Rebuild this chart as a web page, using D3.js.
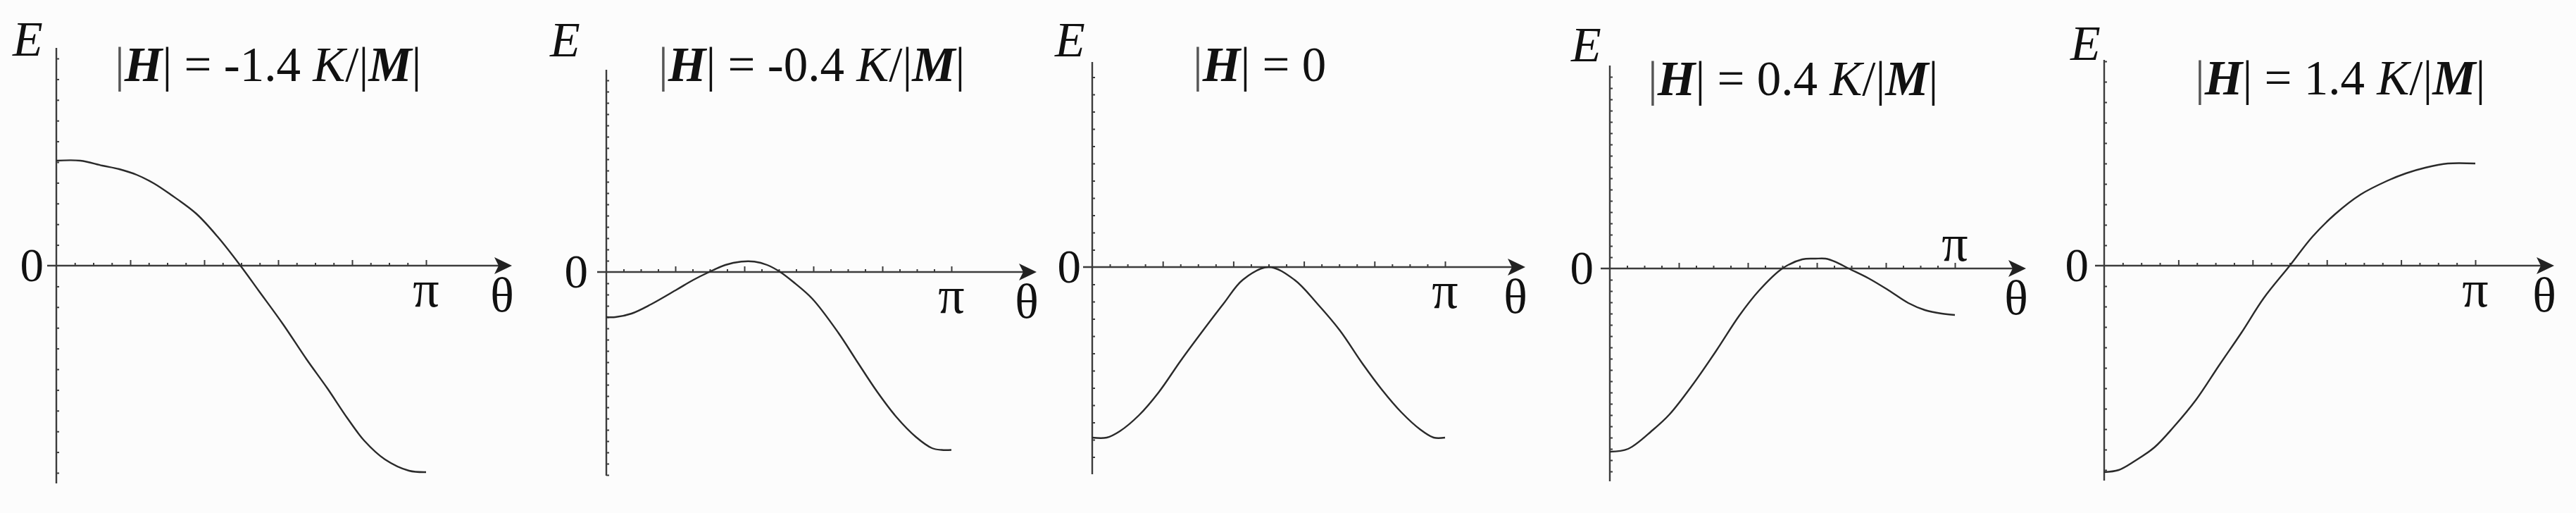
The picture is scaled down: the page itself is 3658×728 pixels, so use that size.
<!DOCTYPE html>
<html lang="en">
<head>
	<meta charset="utf-8">
	<title>E(theta) for several fields</title>
	<style>
		body {
			margin: 0;
			background-color: #fcfcfc;
		}
		svg text {
			font-family: "Liberation Serif", "DejaVu Serif", serif;
			fill: #111;
			white-space: pre;
		}
		.axis-line {
			stroke: #3c3c3c;
			stroke-width: 2.4;
			fill: none;
		}
		.ticks path.domain {
			display: none;
		}
		.ticks line {
			stroke: #3c3c3c;
			stroke-width: 2;
		}
		.curve {
			stroke: #2a2a2a;
			stroke-width: 2.4;
			fill: none;
		}
	</style>
</head>
<body>
	<svg id="chart"></svg>

	<script src="https://d3js.org/d3.v7.min.js"></script>
	<script>
		// field values in the panel titles (units of K/|M|)
		var fieldLabels = ["-1.4", "-0.4", "0", "0.4", "1.4"];

		// theta is given as a fraction of pi, energy in arbitrary units (0 = axis)
		var thetaA  = [0, 0.065, 0.124, 0.17, 0.217, 0.263, 0.309, 0.378, 0.438, 0.498, 0.548, 0.613, 0.677, 0.733, 0.788, 0.834, 0.889, 0.954, 1.0];
		var energyA = [149, 149, 142, 137, 129, 117, 101, 74, 40, 0, -36, -83, -133, -174, -217, -249, -275, -291, -293];

		var thetaB  = [0, 0.026, 0.073, 0.129, 0.204, 0.251, 0.298, 0.345, 0.391, 0.429, 0.466, 0.504, 0.541, 0.597, 0.672, 0.728, 0.785, 0.841, 0.897, 0.944, 0.972, 1.0];
		var energyB = [-64, -64, -59, -46, -25, -11.5, 0, 10, 14.7, 14.7, 10, 0, -13.8, -38, -86, -128, -170, -206, -234, -250, -252.5, -252.5];

		var thetaC  = [0, 0.041, 0.078, 0.133, 0.188, 0.252, 0.317, 0.372, 0.427, 0.5, 0.573, 0.638, 0.702, 0.766, 0.821, 0.876, 0.931, 0.968, 1.0];
		var energyC = [-242, -242, -233, -210, -178, -132, -88, -52, -18, 0, -18, -52, -90, -137, -174, -206, -231, -242, -242];

		var thetaD  = [0, 0.053, 0.125, 0.173, 0.24, 0.308, 0.375, 0.433, 0.5, 0.558, 0.596, 0.625, 0.654, 0.692, 0.75, 0.808, 0.865, 0.913, 0.962, 1.0];
		var energyD = [-260, -256, -229, -207, -165, -117, -67, -31, 0, 13, 14, 14, 9.4, 0, -14, -31, -49, -59, -64, -66];

		var thetaE  = [0, 0.039, 0.083, 0.135, 0.187, 0.248, 0.309, 0.37, 0.43, 0.5, 0.561, 0.622, 0.691, 0.761, 0.813, 0.865, 0.926, 1.0];
		var energyE = [-293, -290, -277, -258, -229, -190, -142, -95, -46, 0, 41, 73, 101, 120, 131, 139, 145, 145];

		var thetas   = [thetaA, thetaB, thetaC, thetaD, thetaE];
		var energies = [energyA, energyB, energyC, energyD, energyE];

		// panel frames on the page
		var layout = [
			{axisX: 80,   piX: 605,  arrowX: 727,  zeroY: 377, topY: 68, bottomY: 686, yStep: 29.4, titleX: 163,  titleY: 115, eX: 18,   eY: 79, zeroGap: 18, piAbove: false},
			{axisX: 861,  piX: 1351, arrowX: 1472, zeroY: 386, topY: 99, bottomY: 675, yStep: 16,   titleX: 935,  titleY: 115, eX: 781,  eY: 80, zeroGap: 26, piAbove: false},
			{axisX: 1551, piX: 2052, arrowX: 2166, zeroY: 379, topY: 88, bottomY: 673, yStep: 24.5, titleX: 1694, titleY: 115, eX: 1498, eY: 80, zeroGap: 16, piAbove: false},
			{axisX: 2286, piX: 2776, arrowX: 2877, zeroY: 381, topY: 93, bottomY: 683, yStep: 16,   titleX: 2340, titleY: 135, eX: 2231, eY: 87, zeroGap: 23, piAbove: true},
			{axisX: 2988, piX: 3515, arrowX: 3627, zeroY: 377, topY: 85, bottomY: 682, yStep: 29,   titleX: 3117, titleY: 134, eX: 2940, eY: 85, zeroGap: 22, piAbove: false}
		];

		var width = 3658,
		    height = 728;

		var svg = d3.select("#chart")
			.attr("width", width)
			.attr("height", height)
			.attr("viewBox", "0 0 " + width + " " + height);

		layout.forEach(function(p, i) {
			var g = svg.append("g").attr("class", "panel");

			var x = d3.scaleLinear().domain([0, 1]).range([p.axisX, p.piX]);
			var y = d3.scaleLinear()
				.domain([-(p.bottomY - p.zeroY), p.zeroY - p.topY])
				.range([p.bottomY, p.topY]);

			// x ticks every pi/20, longer ones every pi/5
			var xMinor = d3.range(0, 21).filter(function(k) { return k % 4 != 0; }).map(function(k) { return k / 20; });
			var xMajor = d3.range(4, 21, 4).map(function(k) { return k / 20; });

			g.append("g").attr("class", "ticks")
				.attr("transform", "translate(0," + y(0) + ")")
				.call(d3.axisTop(x).tickValues(xMinor).tickSize(4).tickFormat(""));
			g.append("g").attr("class", "ticks")
				.attr("transform", "translate(0," + y(0) + ")")
				.call(d3.axisTop(x).tickValues(xMajor).tickSize(8).tickFormat(""));

			// y ticks on the right side of the axis
			var yDom = y.domain();
			var yVals = d3.range(p.yStep, yDom[1], p.yStep)
				.concat(d3.range(-p.yStep, yDom[0], -p.yStep));
			g.append("g").attr("class", "ticks")
				.attr("transform", "translate(" + x(0) + ",0)")
				.call(d3.axisRight(y).tickValues(yVals).tickSize(4).tickFormat(""));

			// axis lines
			g.append("line").attr("class", "axis-line")
				.attr("x1", x(0)).attr("x2", x(0))
				.attr("y1", y(yDom[1])).attr("y2", y(yDom[0]));
			g.append("line").attr("class", "axis-line")
				.attr("x1", x(0) - 13).attr("x2", p.arrowX - 10)
				.attr("y1", y(0)).attr("y2", y(0));
			g.append("path")
				.attr("d", "M" + p.arrowX + "," + y(0) +
					"L" + (p.arrowX - 25) + "," + (y(0) - 12) +
					"L" + (p.arrowX - 19) + "," + y(0) +
					"L" + (p.arrowX - 25) + "," + (y(0) + 12) + "Z")
				.attr("fill", "#222");

			// the curve
			var pts = thetas[i].map(function(t, j) { return [t, energies[i][j]]; });
			var line = d3.line()
				.x(function(d) { return x(d[0]); })
				.y(function(d) { return y(d[1]); })
				.curve(d3.curveCatmullRom.alpha(0.5));
			g.append("path").attr("class", "curve").attr("d", line(pts));

			// labels
			g.append("text")
				.attr("x", p.eX).attr("y", p.eY)
				.attr("font-size", 70)
				.attr("font-style", "italic")
				.text("E");

			g.append("text")
				.attr("x", x(0) - p.zeroGap).attr("y", y(0) + 22)
				.attr("font-size", 67)
				.attr("text-anchor", "end")
				.text("0");

			g.append("text")
				.attr("x", x(1)).attr("y", p.piAbove ? y(0) - 11 : y(0) + 58)
				.attr("font-size", 74)
				.attr("text-anchor", "middle")
				.text("π");

			g.append("text")
				.attr("x", p.arrowX - 14).attr("y", y(0) + 65)
				.attr("font-size", 70)
				.attr("text-anchor", "middle")
				.text("θ");

			var title = g.append("text")
				.attr("x", p.titleX).attr("y", p.titleY)
				.attr("font-size", 69);
			title.append("tspan").attr("fill", "#555").text("|");
			title.append("tspan").attr("font-weight", "bold").attr("font-style", "italic").text("H");
			title.append("tspan").text("| = " + fieldLabels[i]);
			if (fieldLabels[i] != "0") {
				title.append("tspan").text(" ");
				title.append("tspan").attr("font-style", "italic").text("K");
				title.append("tspan").text("/|");
				title.append("tspan").attr("font-weight", "bold").attr("font-style", "italic").text("M");
				title.append("tspan").text("|");
			}
		});
	</script>
</body>
</html>
